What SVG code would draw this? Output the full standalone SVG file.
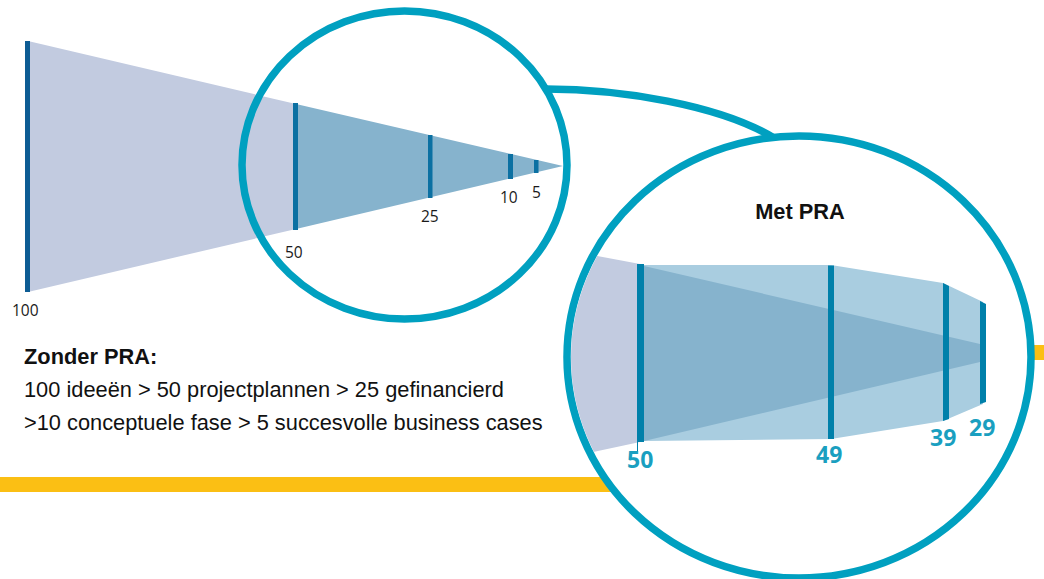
<svg xmlns="http://www.w3.org/2000/svg" width="1044" height="579" viewBox="0 0 1044 579">
  <defs>
    <style>
      .ring { fill: none; stroke: #00a0c0; stroke-width: 7.5; }
      .light { fill: #c2cbe0; }
      .mid { fill: #86b3cd; }
      .pale { fill: #a9cde0; }
      .bar { fill: #0b70a2; }
      .bar2 { fill: #0080aa; }
      .yellow { fill: #fbbf14; }
      .num { font-family: "Open Sans", "Noto Sans", sans-serif; font-size: 15.5px; fill: #1a1a1a; }
      .bignum { font-family: "Open Sans", "Noto Sans", sans-serif; font-size: 23px; font-weight: bold; fill: #1a9fc0; }
      .txt { font-family: "Liberation Sans", Arial, sans-serif; font-size: 21.8px; fill: #111; }
      .bold { font-weight: bold; }
    </style>
    <clipPath id="rightClip">
      <ellipse cx="799" cy="357" rx="228" ry="217"/>
    </clipPath>
  </defs>

  <g id="background">
    <rect class="yellow" x="0" y="477" width="640" height="15"/>
    <rect class="yellow" x="900" y="345" width="144" height="15"/>
  </g>

  <g id="funnel-zonder">
    <polygon class="light" points="28,41 296,104 296,229 28,292"/>
    <polygon class="mid" points="296,104 563,166 296,229"/>
    <rect x="25" y="41" width="5" height="251" fill="#0d5c94"/>
    <rect class="bar" x="293" y="103" width="5" height="127"/>
    <rect class="bar" x="428" y="135" width="4.5" height="63"/>
    <rect class="bar" x="508" y="154" width="5" height="25"/>
    <rect class="bar" x="534" y="160" width="4.5" height="13"/>
    <text class="num" x="12" y="316">100</text>
    <text class="num" x="285" y="258">50</text>
    <text class="num" x="421" y="222">25</text>
    <text class="num" x="500" y="203">10</text>
    <text class="num" x="532" y="198">5</text>
  </g>

  <g id="lens-small">
    <ellipse class="ring" cx="404.5" cy="165" rx="162.5" ry="154"/>
  </g>

  <g id="connectors">
    <path class="ring" d="M546,89 C620,89 720,105 774,138"/>
  </g>

  <g id="lens-large">
    <ellipse cx="799" cy="357" rx="232" ry="221" fill="#ffffff" stroke="#00a0c0" stroke-width="7.5"/>
    <g clip-path="url(#rightClip)">
      <polygon class="light" points="560,249 640,264 640,442 560,459"/>
    </g>
    <polygon class="pale" points="644,265 831,265 943,283 983,302 983,404 943,421 831,439 644,441"/>
    <polygon class="mid" points="644,266 980,344 980,362 644,441"/>
    <rect class="bar2" x="637" y="264" width="7" height="178"/>
    <line x1="637.5" y1="442" x2="637.5" y2="452" stroke="#0080aa" stroke-width="1"/>
    <rect class="bar2" x="828" y="265.5" width="6" height="173.5"/>
    <polygon class="bar2" points="943,283 949,286 949,419 943,421"/>
    <polygon class="bar2" points="980,301 986,304 986,402 980,404"/>
    <text class="txt bold" x="800" y="219" text-anchor="middle">Met PRA</text>
    <text class="bignum" x="627" y="468">50</text>
    <text class="bignum" x="816" y="463">49</text>
    <text class="bignum" x="930" y="446">39</text>
    <text class="bignum" x="969" y="436">29</text>
  </g>

  <g id="legend">
    <text class="txt bold" x="24" y="364">Zonder PRA:</text>
    <text class="txt" x="24" y="397">100 ideeën &gt; 50 projectplannen &gt; 25 gefinancierd</text>
    <text class="txt" x="24" y="430">&gt;10 conceptuele fase &gt; 5 succesvolle business cases</text>
  </g>
</svg>
